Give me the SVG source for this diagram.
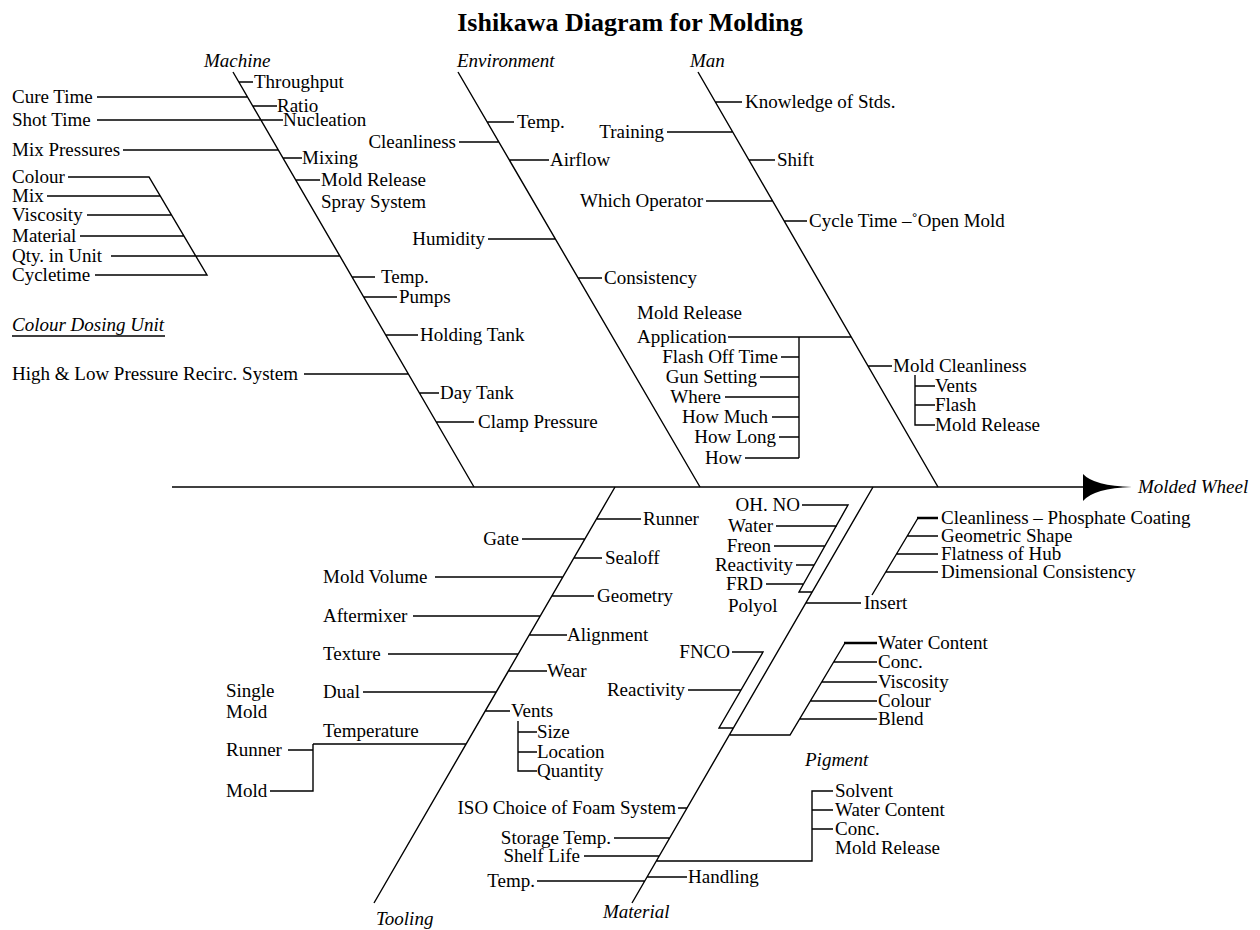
<svg xmlns="http://www.w3.org/2000/svg" width="1260" height="930" viewBox="0 0 1260 930">
<style>
text{font-family:"Liberation Serif","Times New Roman",serif;font-size:19px;fill:#000}
.it{font-style:italic}
.e{text-anchor:end}
.title{font-size:26px;font-weight:bold;text-anchor:middle}
.ln{fill:none;stroke:#000;stroke-width:1.4}
.thk{fill:none;stroke:#000;stroke-width:2.4}
</style>
<rect width="1260" height="930" fill="#fff"/>
<g id="title"><text class="title" x="630" y="31">Ishikawa Diagram for Molding</text></g>
<g id="connectors">
<path class="ln" d="M172,487 H1084"/>
<path d="M1083,474 Q1094,486 1132,487 Q1094,488 1083,501 Z" fill="#000"/>
<path class="ln" d="M233,72 L474,487 M239,82 H253 M97,97 H248 M253,106 H277 M97,120 H283 M123,150 H278 M283,158 H302 M296,180 H320 M68,177 H149 L207,275 H95 M47,196 H160 M87,215 H172 M80,236 H184 M111,256 H340 M352,277 H375 M364,297 H397 M386,335 H418 M304,374 H408 M419,393 H439 M436,422 H474 M12,336 H165"/>
<path class="ln" d="M458,72 L700,487 M487,122 H514 M459,142 H499 M509,160 H549 M488,239 H555 M578,278 H602"/>
<path class="ln" d="M698,72 L938,487 M715,102 H742 M667,132 H733 M749,160 H775 M706,201 H773 M784,221 H807 M728,337 H851 M799,337 V458 M781,357 H799 M760,377 H799 M725,397 H799 M772,417 H799 M779,437 H799 M745,458 H799 M868,366 H892 M915,375 V425 H935 M915,386 H935 M915,405 H935"/>
<path class="ln" d="M615,487 L374,903 M597,519 H641 M522,539 H585 M574,558 H602 M435,577 H563 M552,596 H594 M413,616 H540 M529,635 H567 M388,654 H518 M508,671 H547 M363,692 H496 M485,711 H510 M518,721 V771 H537 M518,732 H537 M518,752 H537 M313,744 H466 M313,744 V791 H270 M288,750 H313"/>
<path class="ln" d="M873,487 L632,903 M802,505 H848 L799,592 H812 M776,526 H837 M774,546 H825 M796,565 H814 M766,584 H803 M806,603 H861 M872,595 L918,518 M907,536 H938 M896,554 H938 M886,572 H938 M732,652 H763 L719,728 H733 M688,690 H741 M730,735 H790 L845,643 M834,662 H877 M822,682 H877 M810,701 H877 M800,719 H877 M678,808 H687 M614,838 H670 M584,856 H659 M656,861 H812 V791 H833 M812,810 H833 M812,829 H833 M647,877 H687 M537,881 H645"/>
<path class="thk" d="M917,518 H938 M844,643 H877"/>
</g>
<g id="effect"><text class="it" x="1138" y="493">Molded Wheel</text></g>
<g id="machine">
<text class="it" x="204" y="67">Machine</text>
<text x="254" y="88">Throughput</text>
<text x="12" y="103">Cure Time</text>
<text x="277" y="112">Ratio</text>
<text x="12" y="126">Shot Time</text>
<text x="283" y="126">Nucleation</text>
<text x="12" y="156">Mix Pressures</text>
<text x="302" y="164">Mixing</text>
<text x="321" y="186">Mold Release</text>
<text x="321" y="208">Spray System</text>
<text x="12" y="183">Colour</text>
<text x="12" y="202">Mix</text>
<text x="12" y="221">Viscosity</text>
<text x="12" y="242">Material</text>
<text x="12" y="262">Qty. in Unit</text>
<text x="12" y="281">Cycletime</text>
<text x="381" y="283">Temp.</text>
<text x="399" y="303">Pumps</text>
<text class="it" x="12" y="331">Colour Dosing Unit</text>
<text x="420" y="341">Holding Tank</text>
<text x="12" y="380">High &amp; Low Pressure Recirc. System</text>
<text x="440" y="399">Day Tank</text>
<text x="478" y="428">Clamp Pressure</text>
</g>
<g id="environment">
<text class="it" x="457" y="67">Environment</text>
<text x="517" y="128">Temp.</text>
<text class="e" x="456" y="148">Cleanliness</text>
<text x="550" y="166">Airflow</text>
<text class="e" x="485" y="245">Humidity</text>
<text x="604" y="284">Consistency</text>
</g>
<g id="man">
<text class="it" x="690" y="67">Man</text>
<text x="745" y="108">Knowledge of Stds.</text>
<text class="e" x="664" y="138">Training</text>
<text x="777" y="166">Shift</text>
<text class="e" x="703" y="207">Which Operator</text>
<text x="809" y="227">Cycle Time –˚Open Mold</text>
<text x="637" y="319">Mold Release</text>
<text x="637" y="343">Application</text>
<text class="e" x="778" y="363">Flash Off Time</text>
<text class="e" x="757" y="383">Gun Setting</text>
<text class="e" x="721" y="403">Where</text>
<text class="e" x="768" y="423">How Much</text>
<text class="e" x="776" y="443">How Long</text>
<text class="e" x="742" y="464">How</text>
<text x="893" y="372">Mold Cleanliness</text>
<text x="935" y="392">Vents</text>
<text x="935" y="411">Flash</text>
<text x="935" y="431">Mold Release</text>
</g>
<g id="tooling">
<text class="it" x="376" y="925">Tooling</text>
<text x="643" y="525">Runner</text>
<text class="e" x="519" y="545">Gate</text>
<text x="605" y="564">Sealoff</text>
<text x="323" y="583">Mold Volume</text>
<text x="597" y="602">Geometry</text>
<text x="323" y="622">Aftermixer</text>
<text x="567" y="641">Alignment</text>
<text x="323" y="660">Texture</text>
<text x="547" y="677">Wear</text>
<text x="323" y="698">Dual</text>
<text x="511" y="717">Vents</text>
<text x="537" y="738">Size</text>
<text x="537" y="758">Location</text>
<text x="537" y="777">Quantity</text>
<text x="323" y="737">Temperature</text>
<text x="226" y="697">Single</text>
<text x="226" y="718">Mold</text>
<text x="226" y="756">Runner</text>
<text x="226" y="797">Mold</text>
</g>
<g id="material">
<text class="it" x="603" y="918">Material</text>
<text class="e" x="800" y="511">OH. NO</text>
<text class="e" x="773" y="532">Water</text>
<text class="e" x="771" y="552">Freon</text>
<text class="e" x="793" y="571">Reactivity</text>
<text class="e" x="763" y="590">FRD</text>
<text x="728" y="612">Polyol</text>
<text x="864" y="609">Insert</text>
<text x="941" y="524">Cleanliness – Phosphate Coating</text>
<text x="941" y="542">Geometric Shape</text>
<text x="941" y="560">Flatness of Hub</text>
<text x="941" y="578">Dimensional Consistency</text>
<text class="e" x="730" y="658">FNCO</text>
<text class="e" x="685" y="696">Reactivity</text>
<text x="878" y="649">Water Content</text>
<text x="878" y="668">Conc.</text>
<text x="878" y="688">Viscosity</text>
<text x="878" y="707">Colour</text>
<text x="878" y="725">Blend</text>
<text class="it" x="805" y="766">Pigment</text>
<text class="e" x="676" y="814">ISO Choice of Foam System</text>
<text class="e" x="611" y="844">Storage Temp.</text>
<text class="e" x="580" y="862">Shelf Life</text>
<text x="835" y="797">Solvent</text>
<text x="835" y="816">Water Content</text>
<text x="835" y="835">Conc.</text>
<text x="835" y="854">Mold Release</text>
<text x="688" y="883">Handling</text>
<text class="e" x="535" y="887">Temp.</text>
</g>
</svg>
